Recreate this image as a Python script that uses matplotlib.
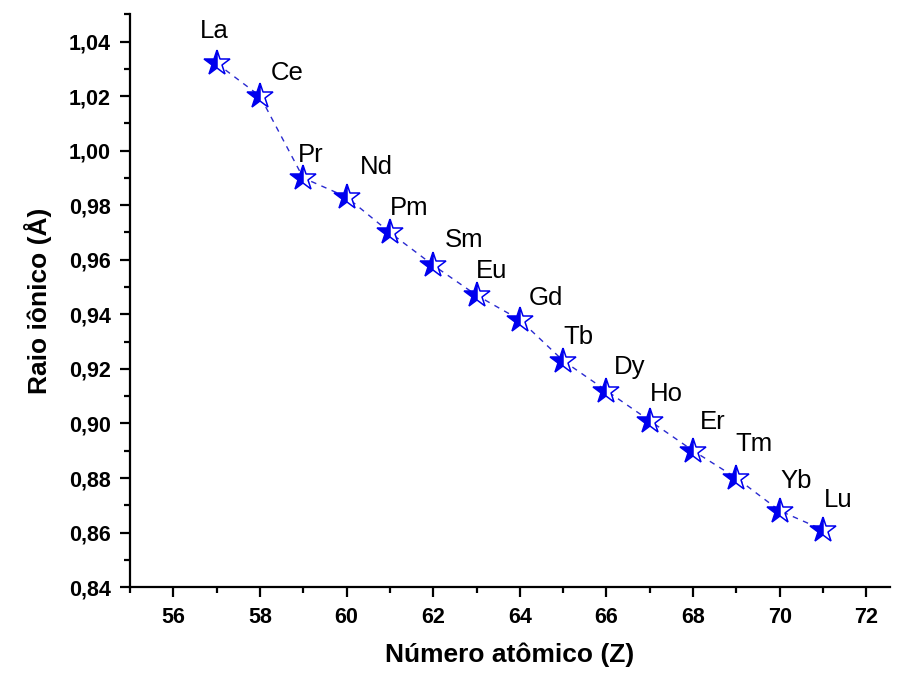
import numpy as np
import matplotlib
matplotlib.use("Agg")
import matplotlib.pyplot as plt
from matplotlib.ticker import MultipleLocator, FuncFormatter

plt.rcParams['font.family'] = ['Liberation Sans', 'DejaVu Sans']

# Lantanídeos: número atômico e raio iônico (Å)
elementos = ['La', 'Ce', 'Pr', 'Nd', 'Pm', 'Sm', 'Eu', 'Gd',
             'Tb', 'Dy', 'Ho', 'Er', 'Tm', 'Yb', 'Lu']
z = [57, 58, 59, 60, 61, 62, 63, 64, 65, 66, 67, 68, 69, 70, 71]
raio = [1.032, 1.020, 0.990, 0.983, 0.970, 0.958, 0.947, 0.938,
        0.923, 0.912, 0.901, 0.890, 0.880, 0.868, 0.861]

# deslocamento dos rótulos (pixels)
desloc = [(-2, 32), (27, 23), (7, 23), (30, 30), (19, 24), (31, 25), (15, 24),
          (26, 22), (15, 24), (23, 24), (17, 27), (20, 29), (18, 34), (16, 30),
          (15, 30)]

fig = plt.figure(figsize=(9.01, 6.78), dpi=100)
ax = fig.add_axes([0.1443, 0.134, 0.8437, 0.845])

ax.plot(z, raio, linestyle=(0, (4, 4)), color='#2a2ad0', linewidth=1.0,
        marker='*', markersize=19, markeredgewidth=1.1,
        markeredgecolor='#0000ee', markerfacecolor='#0000ee',
        fillstyle='left', markerfacecoloralt='white')

for nome, xi, yi, (dx, dy) in zip(elementos, z, raio, desloc):
    ax.annotate(nome, (xi, yi), xytext=(dx, dy), textcoords='offset pixels',
                ha='center', va='center', fontsize=18.5)

ax.set_xlim(55, 72.55)
ax.set_ylim(0.84, 1.05)
ax.xaxis.set_major_locator(MultipleLocator(2))
ax.xaxis.set_minor_locator(MultipleLocator(1))
ax.yaxis.set_major_locator(MultipleLocator(0.02))
ax.yaxis.set_minor_locator(MultipleLocator(0.01))
ax.yaxis.set_major_formatter(FuncFormatter(lambda v, p: f'{v:.2f}'.replace('.', ',')))
ax.set_xticks([56, 58, 60, 62, 64, 66, 68, 70, 72])

for s in ['top', 'right']:
    ax.spines[s].set_visible(False)
for s in ['left', 'bottom']:
    ax.spines[s].set_linewidth(1.6)

ax.tick_params(which='major', direction='out', length=7, width=1.6,
               labelsize=15.5, pad=7)
ax.tick_params(which='minor', direction='out', length=4, width=1.6)
for lbl in ax.get_xticklabels() + ax.get_yticklabels():
    lbl.set_fontweight('bold')

ax.set_xlabel('Número atômico (Z)', fontsize=19, fontweight='bold', labelpad=11)
ax.set_ylabel('Raio iônico (Å)', fontsize=19, fontweight='bold', labelpad=12)

fig.savefig('out.png', dpi=100)
